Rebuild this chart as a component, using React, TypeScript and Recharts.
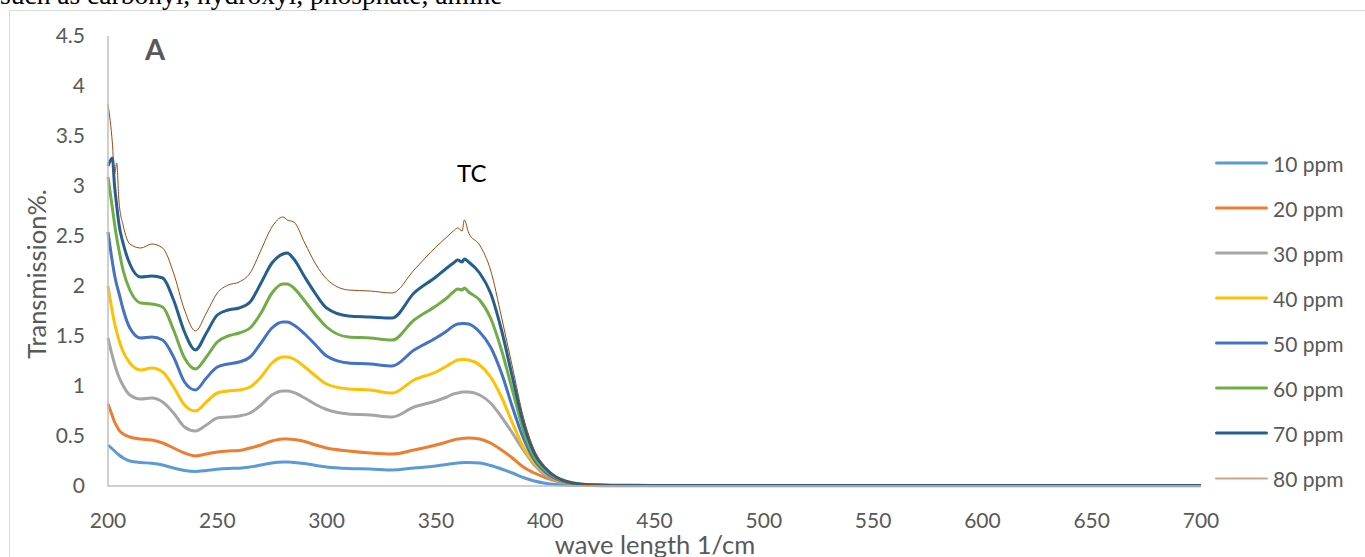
import { LineChart, Line, XAxis, YAxis } from 'recharts'

const wavelengths = [
  200, 202, 203, 204, 205, 207, 210, 215, 220, 225, 230, 235, 240, 245, 250, 255, 260, 265, 270,
  275, 280, 282, 285, 290, 295, 300, 310, 320, 330, 340, 350, 355, 358, 360, 362, 363, 365, 370,
  375, 380, 385, 390, 395, 400, 405, 410, 415, 420, 430, 450, 500, 550, 600, 650, 700,
]

const ppm10 = [
  0.41, 0.37, 0.35, 0.33, 0.31, 0.28, 0.25, 0.235, 0.227, 0.21, 0.18, 0.155, 0.145, 0.155, 0.168,
  0.175, 0.178, 0.19, 0.21, 0.23, 0.24, 0.24, 0.235, 0.225, 0.205, 0.19, 0.175, 0.17, 0.16, 0.18, 0.2,
  0.215, 0.225, 0.23, 0.233, 0.235, 0.236, 0.23, 0.205, 0.17, 0.13, 0.085, 0.05, 0.028, 0.015, 0.008,
  0.005, 0.004, 0.003, 0.003, 0.003, 0.003, 0.003, 0.003, 0.003,
]
const ppm20 = [
  0.82, 0.7, 0.64, 0.6, 0.56, 0.52, 0.49, 0.47, 0.46, 0.43, 0.38, 0.33, 0.3, 0.32, 0.34, 0.35,
  0.355, 0.38, 0.41, 0.45, 0.47, 0.47, 0.465, 0.445, 0.41, 0.38, 0.35, 0.33, 0.32, 0.36, 0.41, 0.44,
  0.46, 0.47, 0.475, 0.478, 0.48, 0.47, 0.43, 0.36, 0.28, 0.19, 0.13, 0.085, 0.05, 0.028, 0.014,
  0.008, 0.005, 0.004, 0.004, 0.004, 0.004, 0.004, 0.004,
]
const ppm30 = [
  1.48, 1.3, 1.22, 1.15, 1.09, 1.0, 0.91, 0.87, 0.88, 0.84, 0.73, 0.59, 0.55, 0.61, 0.68, 0.69,
  0.7, 0.73, 0.81, 0.91, 0.95, 0.95, 0.935, 0.88, 0.815, 0.765, 0.72, 0.71, 0.69, 0.79, 0.85, 0.89,
  0.92, 0.93, 0.94, 0.94, 0.94, 0.91, 0.83, 0.69, 0.53, 0.36, 0.21, 0.11, 0.06, 0.03, 0.015, 0.009,
  0.005, 0.004, 0.004, 0.004, 0.004, 0.004, 0.004,
]
const ppm40 = [
  2.0, 1.74, 1.63, 1.54, 1.46, 1.34, 1.23, 1.16, 1.18, 1.14, 0.99, 0.81, 0.75, 0.84, 0.93, 0.95,
  0.96, 0.99, 1.09, 1.23, 1.29, 1.29, 1.27, 1.19, 1.1, 1.02, 0.97, 0.96, 0.93, 1.06, 1.14, 1.2,
  1.24, 1.26, 1.265, 1.265, 1.26, 1.21, 1.09, 0.89, 0.63, 0.39, 0.23, 0.13, 0.07, 0.035, 0.017,
  0.01, 0.006, 0.005, 0.005, 0.005, 0.005, 0.005, 0.005,
]
const ppm50 = [
  2.54, 2.24, 2.11, 2.01, 1.93, 1.76, 1.58, 1.48, 1.49, 1.46, 1.29, 1.04, 0.96, 1.08, 1.19, 1.22,
  1.24, 1.29, 1.43, 1.58, 1.64, 1.64, 1.61, 1.52, 1.41, 1.3, 1.23, 1.22, 1.2, 1.36, 1.48, 1.55,
  1.6, 1.62, 1.625, 1.625, 1.62, 1.54, 1.39, 1.13, 0.79, 0.48, 0.26, 0.14, 0.07, 0.035, 0.017,
  0.01, 0.006, 0.005, 0.005, 0.005, 0.005, 0.005, 0.005,
]
const ppm60 = [
  3.09, 2.78, 2.62, 2.48, 2.36, 2.15, 1.96, 1.83, 1.82, 1.79, 1.56, 1.28, 1.17, 1.29, 1.44, 1.5,
  1.53, 1.58, 1.73, 1.93, 2.02, 2.02, 1.98, 1.85, 1.71, 1.59, 1.49, 1.48, 1.46, 1.66, 1.8, 1.88,
  1.94, 1.97, 1.96, 1.98, 1.94, 1.86, 1.68, 1.36, 0.96, 0.56, 0.29, 0.16, 0.08, 0.04, 0.02, 0.011,
  0.006, 0.005, 0.005, 0.005, 0.005, 0.005, 0.005,
]
const ppm70 = [
  3.2, 3.28, 3.0, 2.8, 2.62, 2.42, 2.22, 2.09, 2.1, 2.08, 1.86, 1.54, 1.36, 1.53, 1.71, 1.76,
  1.78, 1.84, 2.03, 2.23, 2.32, 2.33, 2.27, 2.09, 1.92, 1.78, 1.7, 1.69, 1.68, 1.93, 2.09, 2.18,
  2.23, 2.26, 2.24, 2.27, 2.24, 2.13, 1.93, 1.56, 1.09, 0.63, 0.33, 0.18, 0.09, 0.045, 0.022,
  0.012, 0.007, 0.006, 0.006, 0.006, 0.006, 0.006, 0.006,
]
const ppm80 = [
  3.82, 3.43, 3.12, 3.23, 2.85, 2.6, 2.42, 2.38, 2.42, 2.38, 2.13, 1.76, 1.55, 1.73, 1.93, 2.01,
  2.04, 2.13, 2.36, 2.59, 2.69, 2.66, 2.64, 2.43, 2.22, 2.07, 1.96, 1.95, 1.93, 2.16, 2.39, 2.49,
  2.55, 2.58, 2.55, 2.66, 2.53, 2.41, 2.16, 1.69, 1.19, 0.69, 0.36, 0.18, 0.09, 0.045, 0.022, 0.013,
  0.008, 0.007, 0.007, 0.007, 0.007, 0.007, 0.007,
]

const xTicks = [200, 250, 300, 350, 400, 450, 500, 550, 600, 650, 700]
const yTicks = [0, 0.5, 1, 1.5, 2, 2.5, 3, 3.5, 4, 4.5]

const series = [
  { key: 'p10', name: '10 ppm', values: ppm10, color: '#5B9BD5', width: 3 },
  { key: 'p20', name: '20 ppm', values: ppm20, color: '#ED7D31', width: 3 },
  { key: 'p30', name: '30 ppm', values: ppm30, color: '#A5A5A5', width: 3 },
  { key: 'p40', name: '40 ppm', values: ppm40, color: '#FFC000', width: 3 },
  { key: 'p50', name: '50 ppm', values: ppm50, color: '#4472C4', width: 3 },
  { key: 'p60', name: '60 ppm', values: ppm60, color: '#70AD47', width: 3 },
  { key: 'p70', name: '70 ppm', values: ppm70, color: '#255E91', width: 3 },
  { key: 'p80', name: '80 ppm', values: ppm80, color: '#9E480E', width: 1 },
]

const data = wavelengths.map((w, i) => {
  const row: Record<string, number> = { w }
  series.forEach((s) => {
    row[s.key] = s.values[i]
  })
  return row
})

const grey = '#595959'
const font = 'Lato, "Open Sans", sans-serif'

function App() {
  return (
    <div
      style={{
        position: 'fixed',
        left: 0,
        top: 0,
        width: 1365,
        height: 557,
        overflow: 'hidden',
        background: '#fff',
        fontFamily: font,
      }}
    >
      {/* tail of the paragraph above the figure, cut by the page edge */}
      <div
        style={{
          position: 'absolute',
          left: 0,
          top: -19,
          fontFamily: '"Liberation Serif", serif',
          fontSize: 27.5,
          lineHeight: '27px',
          whiteSpace: 'nowrap',
          color: '#000',
        }}
      >
        such as carbonyl, hydroxyl, phosphate, amine
      </div>
      <div
        style={{
          position: 'absolute',
          left: 9,
          top: 10,
          width: 1400,
          height: 600,
          border: '1px solid #d9d9d9',
        }}
      />
      <div style={{ position: 'absolute', left: 0, top: 0 }}>
        <LineChart width={1365} height={557} data={data} margin={{ top: 36, right: 164, bottom: 0, left: 0 }}>
          <XAxis
            dataKey="w"
            type="number"
            domain={[200, 700]}
            ticks={xTicks}
            height={71}
            axisLine={{ stroke: '#bfbfbf', strokeWidth: 1.5 }}
            tickLine={false}
            tickMargin={21}
            tick={{ fontSize: 21, fill: grey, fontFamily: font }}
          />
          <YAxis
            type="number"
            domain={[0, 4.5]}
            ticks={yTicks}
            width={108}
            axisLine={{ stroke: '#bfbfbf', strokeWidth: 1.5 }}
            tickLine={false}
            tickMargin={17}
            tick={{ fontSize: 21, fill: grey, fontFamily: font }}
          />
          {series.map((s) => (
            <Line
              key={s.key}
              dataKey={s.key}
              name={s.name}
              type="monotone"
              stroke={s.color}
              strokeWidth={s.width}
              dot={false}
              activeDot={false}
              isAnimationActive={false}
            />
          ))}
        </LineChart>
      </div>
      <div
        style={{
          position: 'absolute',
          left: 37,
          top: 274,
          transform: 'translate(-50%, -50%) rotate(-90deg)',
          fontSize: 25.5,
          color: grey,
          whiteSpace: 'nowrap',
          lineHeight: 1,
        }}
      >
        Transmission%.
      </div>
      <div
        style={{
          position: 'absolute',
          left: 655,
          top: 544,
          transform: 'translate(-50%, -50%)',
          fontSize: 25.5,
          color: grey,
          whiteSpace: 'nowrap',
          lineHeight: '20px',
        }}
      >
        wave length 1/cm
      </div>
      <div
        style={{
          position: 'absolute',
          left: 145,
          top: 48,
          transform: 'translateY(-50%)',
          fontSize: 29,
          fontWeight: 700,
          color: grey,
          lineHeight: 1,
        }}
      >
        A
      </div>
      <div
        style={{
          position: 'absolute',
          left: 457,
          top: 173,
          transform: 'translateY(-50%)',
          fontSize: 24,
          color: '#000',
          lineHeight: 1,
        }}
      >
        TC
      </div>
      {series.map((s, i) => (
        <div
          key={s.key}
          style={{
            position: 'absolute',
            left: 1215,
            top: 163 + i * 45,
            transform: 'translateY(-50%)',
            display: 'flex',
            alignItems: 'center',
            whiteSpace: 'nowrap',
          }}
        >
          <span
            style={{
              display: 'inline-block',
              width: 53,
              height: s.width === 1 ? 2 : 3,
              borderRadius: 2,
              background: s.color,
              opacity: s.width === 1 ? 0.5 : 1,
            }}
          />
          <span style={{ marginLeft: 5, fontSize: 21, color: grey, lineHeight: 1 }}>{s.name}</span>
        </div>
      ))}
    </div>
  )
}

export default App
